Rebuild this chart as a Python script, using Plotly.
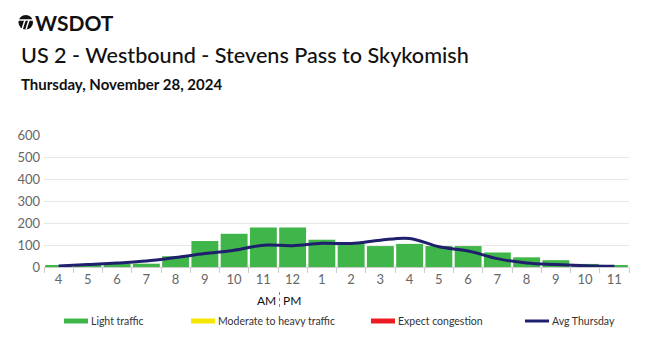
import plotly.graph_objects as go

hours = ["4", "5", "6", "7", "8", "9", "10", "11", "12", "1", "2", "3",
         "4 ", "5 ", "6 ", "7 ", "8 ", "9 ", "10 ", "11 "]
tick_labels = ["4", "5", "6", "7", "8", "9", "10", "11", "12", "1", "2", "3",
               "4", "5", "6", "7", "8", "9", "10", "11"]
volume = [5, 6, 15, 15, 49, 118, 151, 180, 180, 124, 108, 95,
          105, 95, 95, 66, 44, 31, 14, 8]
avg_thursday = [5, 11, 18, 27, 43, 61, 76, 99, 97, 108, 107, 122,
                130, 92, 73, 38, 18, 11, 6, 3]
legend_names = ["Light traffic", "Moderate to heavy traffic", "Expect congestion", "Avg Thursday"]
legend_colors = ["#40b549", "#f5e600", "#ed1c24", "#1f1f6e"]

GREEN = "#40b549"
NAVY = "#1f1f6e"
FONT = "Lato, 'Open Sans', sans-serif"

fig = go.Figure()
fig.add_trace(go.Bar(x=hours, y=volume, marker=dict(color=GREEN, line=dict(width=0)),
                     name="Light traffic", showlegend=False, hoverinfo="y"))
fig.add_trace(go.Scatter(x=hours, y=avg_thursday, mode="lines",
                         line=dict(color=NAVY, width=3, shape="spline", smoothing=1.0),
                         name="Avg Thursday", showlegend=False))

L, R, T, B = 44, 21, 135, 70
W, H = 650, 337
pw, ph = W - L - R, H - T - B

def px(x):
    return (x - L) / pw

def py(y):
    return (H - B - y) / ph

shapes = []
annotations = []

# legend (manual, matching reference spacing)
leg_x = [64, 191, 371, 525]
leg_y = 321
for xs, name, col in zip(leg_x, legend_names, legend_colors):
    thick = 3 if name.startswith("Avg") else 5
    shapes.append(dict(type="line", xref="paper", yref="paper",
                       x0=px(xs), x1=px(xs + 24), y0=py(leg_y), y1=py(leg_y),
                       line=dict(color=col, width=thick)))
    annotations.append(dict(text=name, xref="paper", yref="paper",
                            x=px(xs + 25), y=py(leg_y), xanchor="left", yanchor="middle",
                            showarrow=False, font=dict(family=FONT, size=10.5, color="#333")))

# AM | PM
annotations.append(dict(text="AM", xref="paper", yref="paper", x=px(278), y=py(300),
                        xanchor="right", yanchor="middle", showarrow=False,
                        font=dict(family=FONT, size=12, color="#111")))
annotations.append(dict(text="PM", xref="paper", yref="paper", x=px(281), y=py(300),
                        xanchor="left", yanchor="middle", showarrow=False,
                        font=dict(family=FONT, size=12, color="#111")))
shapes.append(dict(type="line", xref="paper", yref="paper", x0=px(279.5), x1=px(279.5),
                   y0=py(292), y1=py(309), line=dict(color="#888", width=1, dash="dot")))

# Header
annotations.append(dict(text="<b>WSDOT</b>", xref="paper", yref="paper", x=px(33), y=py(22),
                        xanchor="left", yanchor="middle", showarrow=False,
                        font=dict(family=FONT, size=21, color="#111")))
annotations.append(dict(text="US 2 - Westbound - Stevens Pass to Skykomish", xref="paper", yref="paper",
                        x=px(19), y=py(55), xanchor="left", yanchor="middle", showarrow=False,
                        font=dict(family=FONT, size=21.6, color="#111", weight=500)))
annotations.append(dict(text="<b>Thursday, November 28, 2024</b>", xref="paper", yref="paper",
                        x=px(19), y=py(84), xanchor="left", yanchor="middle", showarrow=False,
                        font=dict(family=FONT, size=15, color="#111")))
# logo circle
shapes.append(dict(type="circle", xref="paper", yref="paper",
                   x0=px(18.5), x1=px(33), y0=py(29.5), y1=py(15),
                   fillcolor="#111", line=dict(color="#111", width=0)))
shapes.append(dict(type="line", xref="paper", yref="paper", x0=px(18.5), x1=px(33),
                   y0=py(20), y1=py(20), line=dict(color="white", width=1.5)))
shapes.append(dict(type="line", xref="paper", yref="paper", x0=px(25), x1=px(22),
                   y0=py(20), y1=py(29.5), line=dict(color="white", width=1.5)))
shapes.append(dict(type="line", xref="paper", yref="paper", x0=px(29), x1=px(26),
                   y0=py(20), y1=py(29.5), line=dict(color="white", width=1.5)))

fig.update_layout(
    width=W, height=H,
    margin=dict(l=L, r=R, t=T, b=B),
    paper_bgcolor="white", plot_bgcolor="white",
    bargap=0.08,
    showlegend=False,
    font=dict(family=FONT, size=13, color="#666"),
    shapes=shapes, annotations=annotations,
    xaxis=dict(type="category", categoryorder="array", categoryarray=hours,
               tickmode="array", tickvals=hours, ticktext=tick_labels,
               tickson="boundaries", ticks="outside", ticklen=5, tickcolor="#ccc",
               showline=True, linecolor="#ccc", linewidth=1,
               showgrid=False, tickfont=dict(family=FONT, size=13, color="#666")),
    yaxis=dict(range=[0, 600], dtick=100, showgrid=True, gridcolor="#e8e8e8",
               zeroline=False, ticks="", ticklen=0, ticklabelstandoff=3,
               tickfont=dict(family=FONT, size=13, color="#666")),
)

fig.write_html("out.html")
